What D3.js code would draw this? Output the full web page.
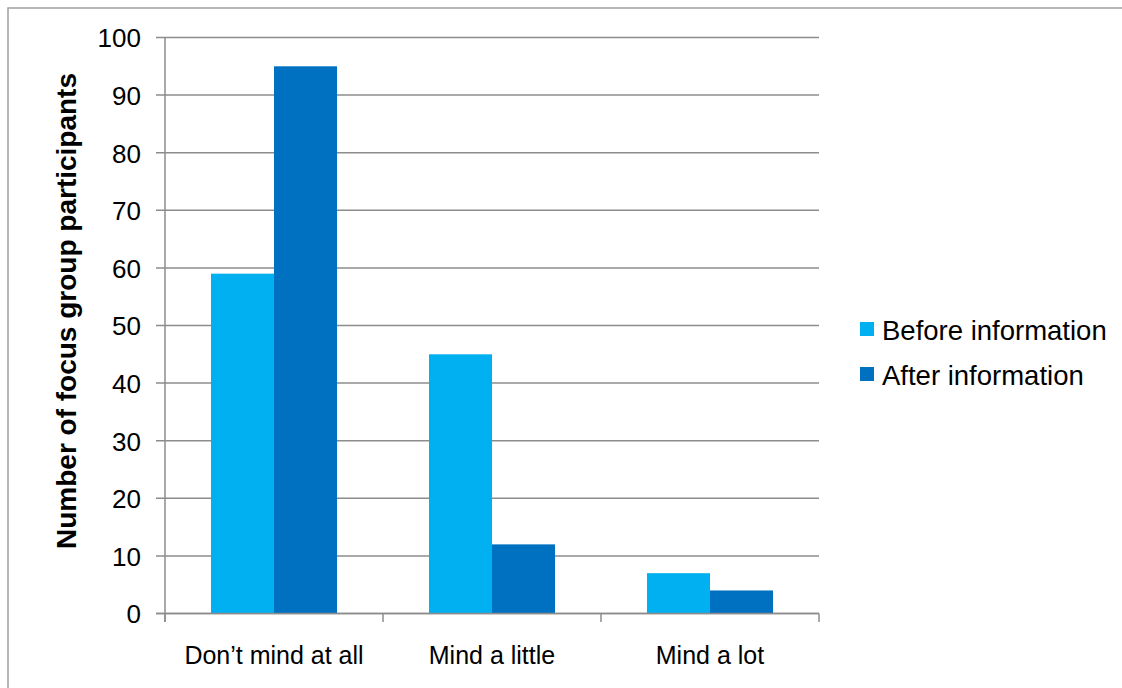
<!DOCTYPE html>
<html><head><meta charset="utf-8">
<script src="https://cdn.jsdelivr.net/npm/d3@7"></script>
<style>body{margin:0;background:#fff}svg{display:block;font-family:Arial,"Liberation Sans",sans-serif}</style>
</head><body><svg id="c" width="1122" height="688"></svg>
<script>
const categories = ["Don\u2019t mind at all", "Mind a little", "Mind a lot"];
const seriesNames = ["Before information", "After information"];
const beforeValues = [59, 45, 7];
const afterValues = [95, 12, 4];
const yTicks = [0, 10, 20, 30, 40, 50, 60, 70, 80, 90, 100];
const colors = ["#00B0F0", "#0070C0"];
const yTitle = "Number of focus group participants";

const svg = d3.select("#c");
const seriesData = [beforeValues, afterValues];

// outer frame
svg.append("rect").attr("x", 8).attr("y", 8).attr("width", 1130).attr("height", 700)
  .attr("fill", "none").attr("stroke", "#a0a0a0").attr("stroke-width", 1.5);

const x0 = d3.scaleBand().domain(categories).range([165, 819]).padding(0);
const x1 = d3.scaleBand().domain(seriesNames).range([0, x0.bandwidth()]).paddingInner(0).paddingOuter(0.73);
const y = d3.scaleLinear().domain([0, 100]).range([613.5, 37.5]);

const grid = "#8c8c8c";
svg.append("g").selectAll("line").data(yTicks).join("line")
  .attr("x1", 156).attr("x2", 819).attr("y1", d => y(d)).attr("y2", d => y(d))
  .attr("stroke", grid).attr("stroke-width", 1.5);

svg.append("line").attr("x1", 165).attr("x2", 165).attr("y1", y(100)).attr("y2", 622)
  .attr("stroke", grid).attr("stroke-width", 1.5);

const bounds = categories.map(c => x0(c)).concat([x0(categories[categories.length-1]) + x0.bandwidth()]);
svg.append("g").selectAll("line").data(bounds).join("line")
  .attr("x1", d => d).attr("x2", d => d).attr("y1", y(0)).attr("y2", 622)
  .attr("stroke", grid).attr("stroke-width", 1.5);

const groups = svg.append("g").selectAll("g").data(categories).join("g")
  .attr("transform", c => `translate(${x0(c)},0)`);
groups.selectAll("rect").data((c, i) => seriesNames.map((s, j) => ({s, v: seriesData[j][i], j})))
  .join("rect")
  .attr("x", d => x1(d.s)).attr("width", x1.bandwidth())
  .attr("y", d => y(d.v)).attr("height", d => y(0) - y(d.v))
  .attr("fill", d => colors[d.j]);

svg.append("line").attr("x1", 156).attr("x2", 819).attr("y1", y(0)).attr("y2", y(0))
  .attr("stroke", grid).attr("stroke-width", 1.5);

svg.append("g").selectAll("text").data(yTicks).join("text")
  .attr("x", 141).attr("y", d => y(d)).attr("dy", "0.38em")
  .attr("text-anchor", "end").attr("font-size", 26).attr("fill", "#000")
  .text(d => d);

svg.append("g").selectAll("text").data(categories).join("text")
  .attr("x", c => x0(c) + x0.bandwidth() / 2).attr("y", 664)
  .attr("text-anchor", "middle").attr("font-size", 25).attr("fill", "#000")
  .text(c => c);

svg.append("text").attr("transform", "translate(76,311) rotate(-90)")
  .attr("text-anchor", "middle").attr("font-size", 28).attr("font-weight", "bold")
  .attr("fill", "#000").text(yTitle);

const leg = svg.append("g").selectAll("g").data(seriesNames).join("g")
  .attr("transform", (d, i) => `translate(860,${322 + i * 45})`);
leg.append("rect").attr("width", 14).attr("height", 14).attr("fill", (d, i) => colors[i]);
leg.append("text").attr("x", 22).attr("y", 18).attr("font-size", 27.5).attr("fill", "#000").text(d => d);
</script></body></html>
